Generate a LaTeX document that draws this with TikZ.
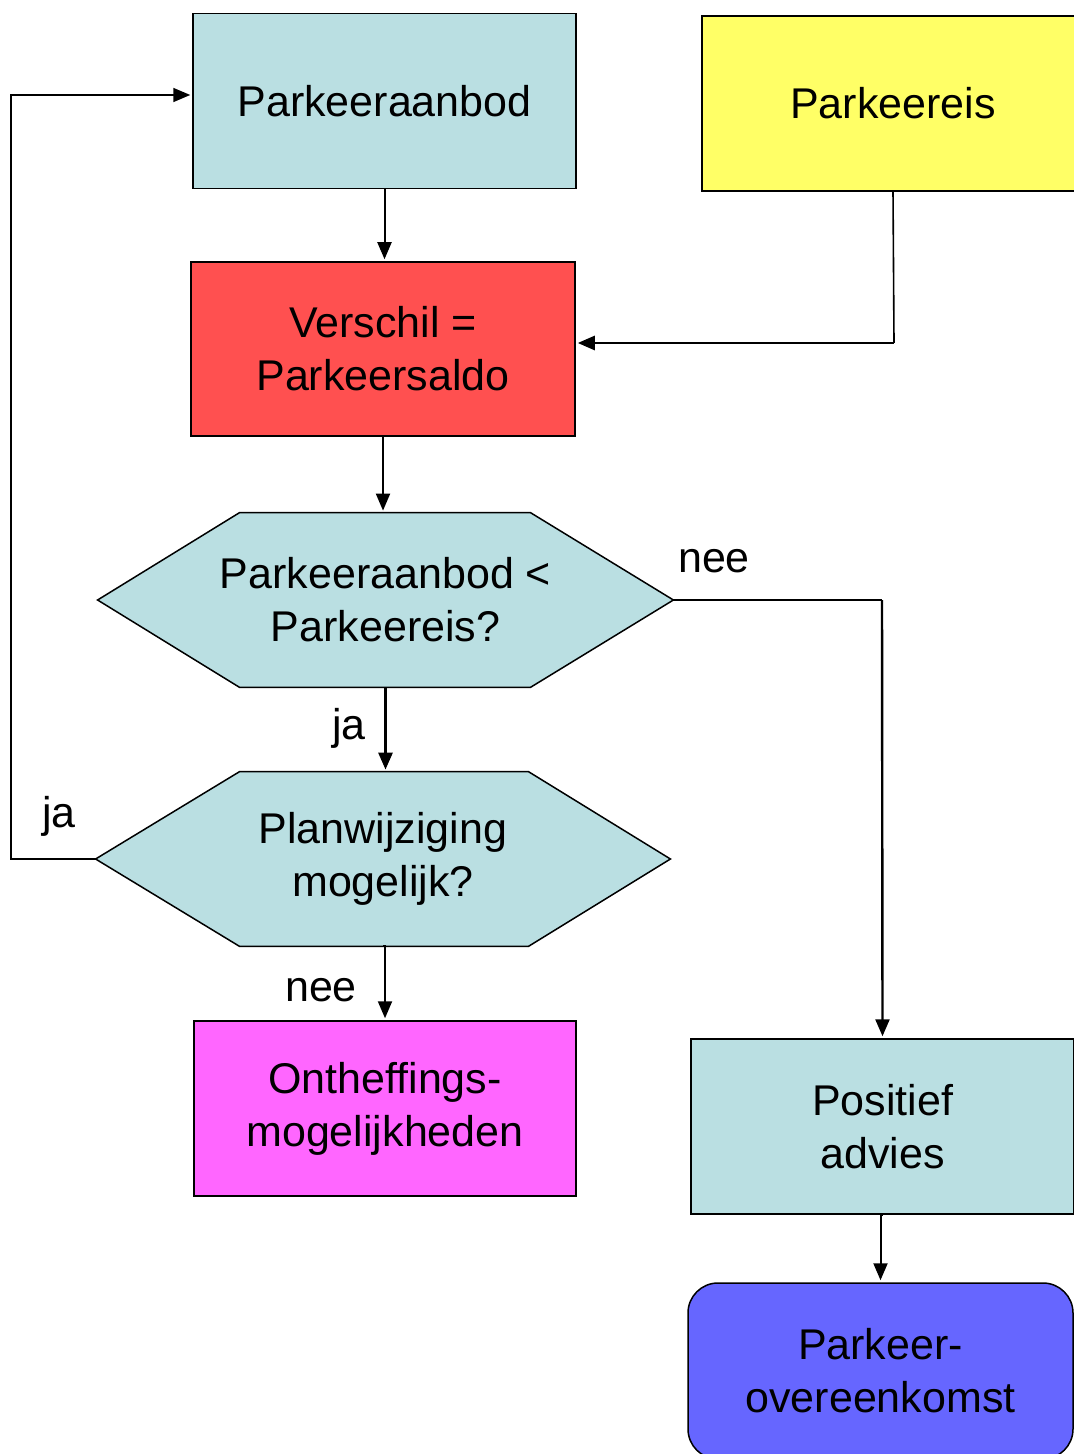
\documentclass[tikz,border=0pt]{standalone}
\usepackage{fontspec}
\setmainfont{Liberation Sans}
\usetikzlibrary{arrows.meta,backgrounds}
\definecolor{cyanbox}{RGB}{186,223,226}
\definecolor{yellowbox}{RGB}{255,255,102}
\definecolor{redbox}{RGB}{255,80,80}
\definecolor{pinkbox}{RGB}{255,102,255}
\definecolor{bluebox}{RGB}{102,102,255}
\begin{document}
\begin{tikzpicture}[x=0.5pt,y=-0.5pt,
  txt/.style={font=\fontsize{21.5}{26.5}\selectfont, align=center},
  box/.style={txt, draw=black, line width=0.75pt, rectangle, inner sep=0pt},
  hexnode/.style={txt, rectangle, inner sep=0pt},
  hexshape/.style={draw=black, line width=0.75pt, fill=cyanbox},
  lbl/.style={font=\fontsize{21.5}{26.5}\selectfont, inner sep=0pt},
  conn/.style={line width=1pt, -{Triangle[length=8.5pt,width=7pt]}, shorten >=1pt},
  plain/.style={line width=0.8pt}]
\useasboundingbox (0,0) rectangle (1074,1454);
\clip (0,0) rectangle (1074,1454);

% process boxes
\node[box, fill=cyanbox, minimum width=191.5pt, minimum height=87.5pt] (pa) at (384.5,101) {Parkeeraanbod};
\node[box, fill=yellowbox, minimum width=191pt, minimum height=87.5pt] (pr) at (893,103.5) {Parkeereis};
\node[box, fill=redbox, minimum width=192pt, minimum height=87pt] (vs) at (383,349) {Verschil =\\Parkeersaldo};
\node[box, fill=pinkbox, minimum width=191pt, minimum height=87.5pt] (on) at (385,1108.5) {Ontheffings-\\mogelijkheden};
\node[box, fill=cyanbox, minimum width=191.5pt, minimum height=87.5pt] (pos) at (882.5,1126.5) {Positief\\advies};
\node[box, fill=bluebox, rounded corners=15pt, minimum width=192.5pt, minimum height=88pt] (po) at (880.5,1371) {Parkeer-\\overeenkomst};

% decision nodes (hexagons drawn behind the text)
\node[hexnode, minimum width=287.5pt, minimum height=87pt] (q1) at (385.5,600) {Parkeeraanbod <\\Parkeereis?};
\node[hexnode, minimum width=287pt, minimum height=87pt] (q2) at (383,859) {Planwijziging\\mogelijk?};
\begin{scope}[on background layer]
  \draw[hexshape] (q1.west) -- ([xshift=71pt]q1.north west) -- ([xshift=-71.5pt]q1.north east)
    -- (q1.east) -- ([xshift=-71.5pt]q1.south east) -- ([xshift=71pt]q1.south west) -- cycle;
  \draw[hexshape] (q2.west) -- ([xshift=72pt]q2.north west) -- ([xshift=-71pt]q2.north east)
    -- (q2.east) -- ([xshift=-71pt]q2.south east) -- ([xshift=72pt]q2.south west) -- cycle;
\end{scope}

% bend points
\coordinate (c1) at (894,343);
\coordinate (c2) at (882,600);
\coordinate (c4) at (11,95);

% connectors
\draw[conn] (pa.south) -- (pa.south |- vs.north);
\draw[plain] (pr.south) -- (c1);
\draw[conn, line width=1.3pt] (c1) -- (vs.east |- c1);
\draw[conn] (vs.south) -- (vs.south |- q1.north);
\draw[plain] (q1.east) -- (c2);
\draw[conn, line width=1.2pt] (c2) -- (pos.north);
\draw[conn, line width=1.4pt] (q1.south) -- (q1.south |- q2.north);
\draw[conn, line width=0.8pt] (q2.west) -- (q2.west -| c4) -- (c4) -- (pa.west |- c4);
\draw[conn] (q2.south) -- (q2.south -| on.north) -- (on.north);
\draw[conn] (pos.south) -- (pos.south -| po.north) -- (po.north);

% branch labels
\node[lbl] (l1) at (714,561) {nee};
\node[lbl] (l2) at (349,728) {ja};
\node[lbl] (l3) at (59,816) {ja};
\node[lbl] (l4) at (321,990) {nee};
\end{tikzpicture}
\end{document}
